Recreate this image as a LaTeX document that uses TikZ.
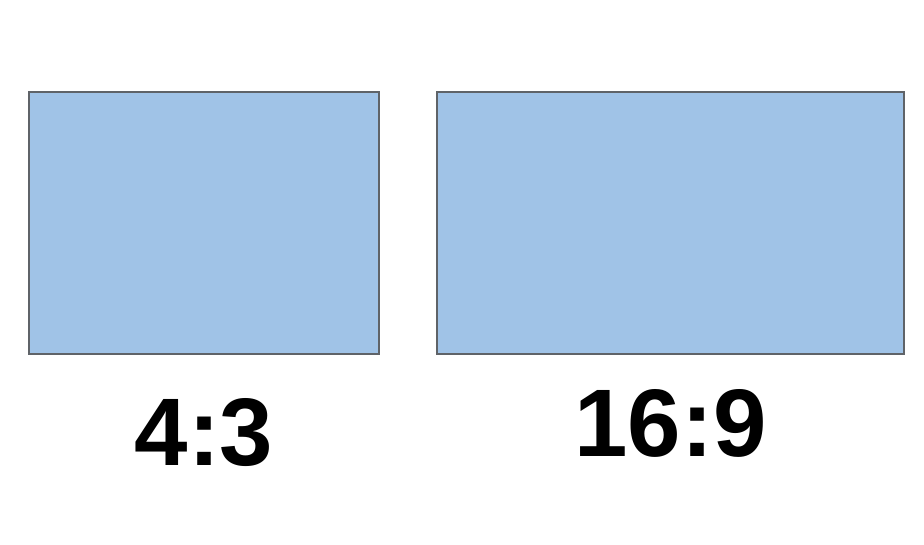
\documentclass[tikz,border=0pt]{standalone}
\usepackage{fontspec}
\setmainfont{Liberation Sans}
\usepackage{tikz}
\usepackage{xcolor}
\usetikzlibrary{positioning}

\definecolor{screenfill}{HTML}{A0C3E7}
\definecolor{screenedge}{HTML}{5F6368}

\begin{document}
\begin{tikzpicture}[x=1pt, y=1pt,
        screen/.style={rectangle, draw=screenedge, fill=screenfill, line width=1.5pt, inner sep=0pt},
        ratio/.style={inner sep=0pt, font=\fontsize{96}{96}\selectfont\bfseries}]
            \useasboundingbox (0,0) rectangle (924,-544);
            \node[screen, minimum width=350pt, minimum height=262pt] (R43) at (204,-223) {};
            \node[screen, minimum width=467pt, minimum height=262pt] (R169) at (670.5,-223) {};

            \node[ratio] (L43) [below=44pt of R43.south] {4:3};
            \node[ratio] (L169) [below=35pt of R169.south] {16:9};
        \end{tikzpicture}
\end{document}
